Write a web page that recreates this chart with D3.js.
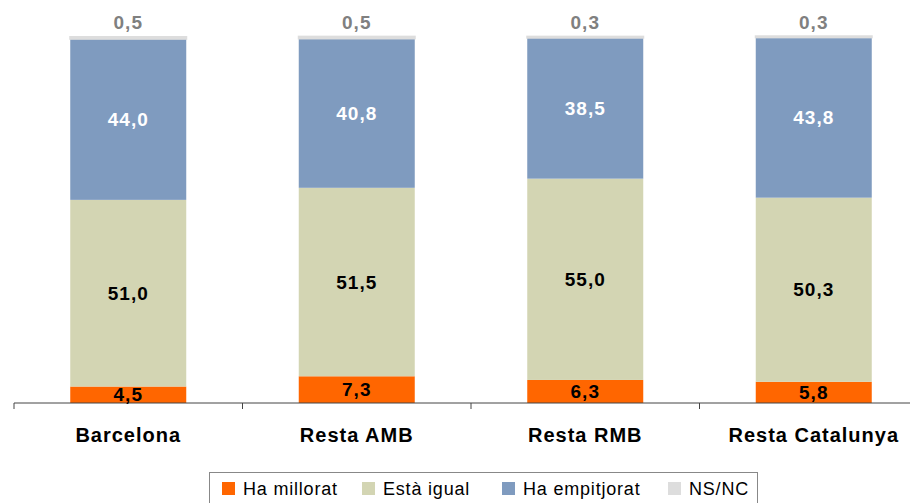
<!DOCTYPE html>
<html><head><meta charset="utf-8">
<script src="https://cdn.jsdelivr.net/npm/d3@7"></script>
<style>body{margin:0;background:#fff}svg{display:block;font-family:"Liberation Sans",Arial,sans-serif}</style>
</head><body><svg id="c" width="910" height="503"></svg>
<script>
const categories = ["Barcelona","Resta AMB","Resta RMB","Resta Catalunya"];
const seriesNames = ["Ha millorat","Està igual","Ha empitjorat","NS/NC"];
const haMillorat = [4.5,7.3,6.3,5.8];
const estaIgual = [51.0,51.5,55.0,50.3];
const haEmpitjorat = [44.0,40.8,38.5,43.8];
const nsnc = [0.5,0.5,0.3,0.3];
const colors = ["#FF6600","#D3D5B3","#7F9BBF","#DDDDDD"];
const labelColors = ["#000","#000","#fff","#808080"];

const seriesVals = [haMillorat,estaIgual,haEmpitjorat,nsnc];
const data = categories.map((c,i)=>{const o={cat:c};seriesNames.forEach((s,j)=>o[s]=seriesVals[j][i]);return o;});
const stack = d3.stack().keys(seriesNames)(data);

const svg = d3.select("#c");
const x = d3.scaleBand().domain(categories).range([14,928]).paddingInner(0).paddingOuter(0);
const y = d3.scaleLinear().domain([0,100]).range([403,37]);
const bw = 116;
const fmt = v => v.toFixed(1).replace(".",",");

stack.forEach((layer,j)=>{
  const g = svg.append("g");
  g.selectAll("rect").data(layer).join("rect")
    .attr("x",d=>x(d.data.cat)+x.bandwidth()/2-bw/2)
    .attr("width",bw)
    .attr("y",d=>y(d[1]))
    .attr("height",d=>y(d[0])-y(d[1]))
    .attr("fill",colors[j])
    .attr("stroke",j===3?colors[j]:"none")
    .attr("stroke-width",j===3?2:0);
});

// axis
const ax = svg.append("g").attr("transform","translate(0,403)")
  .call(d3.axisBottom(x).tickSize(0).tickFormat(""));
ax.select(".domain").attr("stroke","#444").attr("d","M14,0H928");
const tickPos = categories.map(c=>x(c)).concat([x(categories[3])+x.bandwidth()]);
svg.append("g").selectAll("line").data(tickPos).join("line")
  .attr("x1",d=>d).attr("x2",d=>d).attr("y1",403).attr("y2",409).attr("stroke","#444");

// category labels
svg.append("g").selectAll("text").data(categories).join("text")
  .attr("x",d=>x(d)+x.bandwidth()/2).attr("y",442)
  .attr("text-anchor","middle").attr("font-weight","bold").attr("font-size",20)
  .attr("letter-spacing",1).attr("fill","#000")
  .text(d=>d);

// value labels
stack.forEach((layer,j)=>{
  svg.append("g").selectAll("text").data(layer).join("text")
    .attr("x",d=>x(d.data.cat)+x.bandwidth()/2)
    .attr("y",d=> j===3 ? 29 : (y(d[0])+y(d[1]))/2+6.5)
    .attr("text-anchor","middle").attr("font-weight","bold").attr("font-size",19)
    .attr("letter-spacing",1)
    .attr("fill",labelColors[j])
    .text(d=>fmt(d[1]-d[0]));
});

// legend
const lg = svg.append("g");
lg.append("rect").attr("x",209.5).attr("y",472.5).attr("width",548).attr("height",40)
  .attr("fill","#fff").attr("stroke","#888");
const lx = [222,362,502,668];
seriesNames.forEach((s,j)=>{
  lg.append("rect").attr("x",lx[j]).attr("y",482).attr("width",13).attr("height",13).attr("fill",colors[j]);
  lg.append("text").attr("x",lx[j]+21).attr("y",495).attr("font-size",18)
    .attr("letter-spacing",0.8).attr("fill","#000").text(s);
});
</script></body></html>
